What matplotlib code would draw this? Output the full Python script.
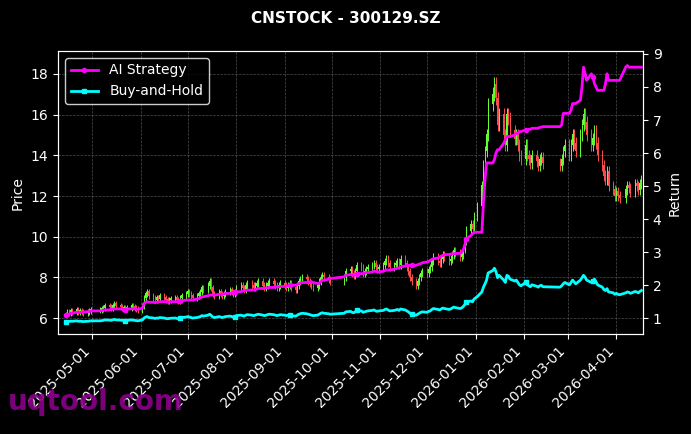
import numpy as np
import pandas as pd
import matplotlib
matplotlib.use("Agg")
import matplotlib.pyplot as plt
import matplotlib.dates as mdates

months = ["2025-04", "2025-05", "2025-06", "2025-07", "2025-08", "2025-09", "2025-10",
          "2025-11", "2025-12", "2026-01", "2026-02", "2026-03", "2026-04"]
close_by_month = [
    [6.2, 6.3, 6.25, 6.35, 6.3, 6.4, 6.3, 6.35, 6.3, 6.25, 6.3, 6.35, 6.4],
    [6.4, 6.45, 6.5, 6.6, 6.55, 6.5, 6.6, 6.7, 6.6, 6.55, 6.5, 6.5, 6.45, 6.5, 6.6, 6.55, 6.5, 6.45, 6.4],
    [6.6, 7.0, 7.2, 7.3, 7.1, 7.0, 6.9, 7.0, 6.95, 7.1, 7.0, 6.9, 6.85, 6.9, 6.95, 7.0, 6.9, 6.85, 7.0, 7.1, 7.2],
    [7.3, 7.2, 7.1, 7.0, 7.1, 7.2, 7.3, 7.5, 7.4, 7.6, 7.8, 7.5, 7.2, 7.1, 7.3, 7.2, 7.1, 7.2, 7.3, 7.4, 7.3, 7.2, 7.3],
    [7.5, 7.6, 7.5, 7.4, 7.6, 7.7, 7.6, 7.5, 7.6, 7.7, 7.8, 7.6, 7.5, 7.6, 7.7, 7.8, 7.7, 7.6, 7.5, 7.6, 7.7],
    [7.6, 7.5, 7.6, 7.7, 7.5, 7.4, 7.6, 7.8, 7.9, 8.0, 7.9, 7.8, 7.7, 7.6, 7.5, 7.6, 7.8, 8.0, 8.1, 8.0, 7.9, 7.8],
    [8.0, 8.3, 8.4, 8.2, 8.1, 8.3, 8.6, 8.5, 8.2, 8.3, 8.4, 8.5, 8.6, 8.7, 8.5, 8.4, 8.5],
    [8.6, 8.8, 8.9, 8.7, 8.5, 8.6, 8.7, 8.8, 8.6, 8.9, 8.7, 8.5, 8.3, 8.0, 7.8, 7.6, 7.8, 8.0, 8.2, 8.3],
    [8.2, 8.4, 8.5, 8.8, 9.0, 8.8, 8.7, 8.9, 9.1, 9.0, 8.8, 8.9, 9.1, 9.3, 9.2, 9.0, 9.1, 9.4, 9.8, 10.3, 10.6, 10.4, 11.0],
    [11.5, 12.5, 13.5, 14.2, 15.0, 16.5, 17.0, 17.5, 16.8, 15.5, 16.0, 15.0, 14.5, 16.0, 15.8, 15.2, 14.8, 15.0, 14.5, 14.0, 13.8],
    [14.5, 14.0, 13.8, 13.6, 14.0, 13.7, 13.5, 13.8, 13.9, 13.6, 13.5, 13.8, 14.2, 14.5],
    [14.0, 14.5, 15.0, 14.6, 14.2, 15.0, 15.5, 16.0, 15.6, 15.0, 14.5, 14.8, 15.2, 14.6, 14.0, 13.5, 13.0, 12.8, 13.2, 12.5, 12.3, 12.0],
    [12.2, 12.0, 11.9, 12.3, 12.5, 12.4, 12.2, 12.6, 12.5, 12.3, 12.6, 12.8],
]
strategy_by_month = [
    [1.10, 1.12, 1.12, 1.15, 1.15, 1.18, 1.18, 1.17, 1.18, 1.18, 1.2, 1.2, 1.22],
    [1.22, 1.22, 1.25, 1.25, 1.25, 1.27, 1.27, 1.28, 1.28, 1.28, 1.27, 1.27, 1.26, 1.28, 1.28, 1.28, 1.28, 1.27, 1.27],
    [1.3, 1.45, 1.48, 1.5, 1.48, 1.48, 1.47, 1.48, 1.48, 1.5, 1.5, 1.5, 1.48, 1.48, 1.5, 1.5, 1.5, 1.5, 1.52, 1.52, 1.55],
    [1.55, 1.55, 1.55, 1.55, 1.58, 1.6, 1.62, 1.65, 1.65, 1.68, 1.7, 1.7, 1.7, 1.7, 1.72, 1.72, 1.72, 1.73, 1.75, 1.75, 1.75, 1.76, 1.78],
    [1.8, 1.8, 1.82, 1.82, 1.84, 1.85, 1.85, 1.86, 1.86, 1.88, 1.9, 1.9, 1.9, 1.92, 1.92, 1.93, 1.93, 1.94, 1.95, 1.95, 1.96],
    [1.96, 1.97, 1.98, 2.0, 2.0, 2.0, 2.02, 2.04, 2.06, 2.08, 2.08, 2.1, 2.1, 2.1, 2.08, 2.05, 2.05, 2.1, 2.15, 2.15, 2.18, 2.2],
    [2.25, 2.3, 2.32, 2.3, 2.3, 2.32, 2.35, 2.35, 2.35, 2.36, 2.38, 2.38, 2.4, 2.42, 2.42, 2.4, 2.4],
    [2.42, 2.44, 2.46, 2.46, 2.46, 2.48, 2.5, 2.52, 2.52, 2.55, 2.58, 2.6, 2.6, 2.6, 2.6, 2.6, 2.62, 2.64, 2.65, 2.68],
    [2.7, 2.72, 2.75, 2.78, 2.8, 2.82, 2.85, 2.88, 2.9, 2.92, 2.93, 2.94, 2.95, 2.95, 2.96, 2.96, 3.0, 3.06, 3.2, 3.4, 3.5, 3.55, 3.6],
    [3.6, 3.6, 4.5, 5.2, 5.7, 5.7, 5.7, 5.8, 6.0, 6.1, 6.1, 6.3, 6.4, 6.5, 6.5, 6.5, 6.55, 6.6, 6.6, 6.65, 6.65],
    [6.7, 6.7, 6.72, 6.72, 6.75, 6.75, 6.75, 6.78, 6.78, 6.8, 6.8, 6.85, 7.2, 7.2],
    [7.2, 7.3, 7.5, 7.5, 7.5, 7.6, 8.0, 8.6, 8.4, 8.2, 8.4, 8.3, 8.1, 8.0, 7.9, 7.9, 7.9, 8.1, 8.4, 8.2, 8.2, 8.2],
    [8.2, 8.2, 8.2, 8.6, 8.65, 8.6, 8.6, 8.6, 8.6, 8.6, 8.6, 8.6],
]
holidays = ["2025-05-01", "2025-05-02", "2025-05-05", "2025-10-01", "2025-10-02", "2025-10-03",
            "2025-10-06", "2025-10-07", "2025-10-08", "2026-01-01", "2026-02-16", "2026-02-17",
            "2026-02-18", "2026-02-19", "2026-02-20", "2026-02-23", "2026-04-06"]

hol = set(pd.to_datetime(holidays))
bdays = [d for d in pd.bdate_range("2025-04-14", "2026-04-30") if d not in hol]
dates, close, strat = [], [], []
for m, cl, st in zip(months, close_by_month, strategy_by_month):
    md = [d for d in bdays if d.strftime("%Y-%m") == m][:len(cl)]
    dates += md; close += cl[:len(md)]; strat += st[:len(md)]
dates = pd.to_datetime(dates)
close = np.array(close)
strat = np.array(strat)
opn = np.concatenate([[close[0]], close[:-1]])
bh = close / close[0] * 0.89

fig = plt.figure(figsize=(6.91, 4.34), dpi=100, facecolor="black")
ax = fig.add_axes([0.084, 0.230, 0.8465, 0.6525], facecolor="black")
x = mdates.date2num(dates)
up = close >= opn
col = np.where(up, "#66ff33", "#ff4d4d")
hi = np.maximum(opn, close) * 1.02
lo = np.minimum(opn, close) * 0.98
ax.vlines(x, lo, hi, colors=col, lw=0.7)
ax.bar(x, np.abs(close - opn) + 0.03, bottom=np.minimum(opn, close), width=0.6, color=col)
ax.set_ylim(5.21, 19.13)
ax.set_xlim(mdates.datestr2num("2025-04-09"), mdates.datestr2num("2026-04-18"))
ax.set_ylabel("Price", color="white")
ax.grid(True, color="gray", ls="--", lw=0.5, alpha=0.6)
ax.xaxis.set_major_locator(mdates.MonthLocator())
ax.xaxis.set_major_formatter(mdates.DateFormatter("%Y-%m-%d"))
plt.setp(ax.get_xticklabels(), rotation=45, ha="right")

ax2 = ax.twinx()
l1, = ax2.plot(x, strat, color="#ff00ff", lw=2, marker="o", ms=3, markevery=25, label="AI Strategy")
l2, = ax2.plot(x, bh, color="#00ffff", lw=2, marker="s", ms=3, markevery=25, label="Buy-and-Hold")
ax2.set_ylim(0.515, 9.09)
ax2.set_ylabel("Return", color="white")
for a in (ax, ax2):
    a.tick_params(colors="white")
    for s in a.spines.values():
        s.set_color("white")
leg = ax2.legend(handles=[l1, l2], loc="upper left", facecolor="black", edgecolor="white")
for t in leg.get_texts():
    t.set_color("white")
fig.suptitle("CNSTOCK - 300129.SZ", color="white", fontweight="bold", y=0.975, fontsize=11)
fig.text(0.012, 0.055, "uqtool.com", color="#8b008b", fontsize=20, fontweight="bold", alpha=0.9)
fig.savefig("out.png", dpi=100, facecolor="black")
